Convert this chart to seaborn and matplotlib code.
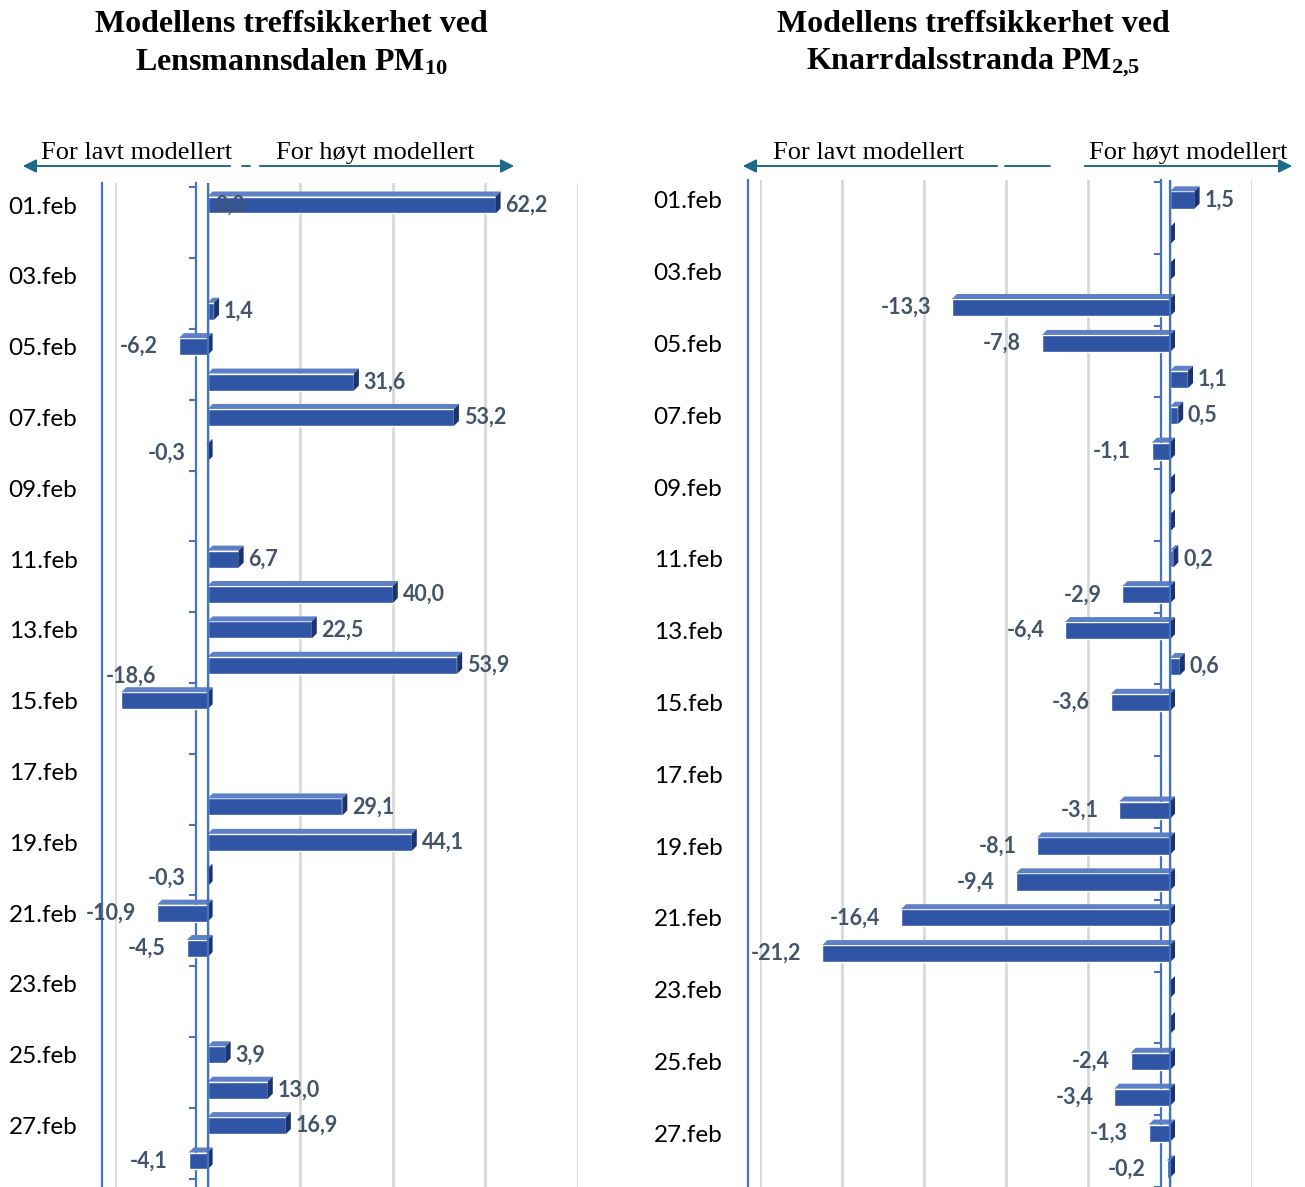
import numpy as np
import pandas as pd
import matplotlib
matplotlib.use("Agg")
import matplotlib.pyplot as plt
import seaborn as sns
from matplotlib.patches import Polygon, FancyArrowPatch
from matplotlib.lines import Line2D

# ---------------- data ----------------
dates = ["01.feb", "02.feb", "03.feb", "04.feb", "05.feb", "06.feb", "07.feb",
         "08.feb", "09.feb", "10.feb", "11.feb", "12.feb", "13.feb", "14.feb",
         "15.feb", "16.feb", "17.feb", "18.feb", "19.feb", "20.feb", "21.feb",
         "22.feb", "23.feb", "24.feb", "25.feb", "26.feb", "27.feb", "28.feb"]
nan = np.nan
pm10_lensmannsdalen = [62.2, nan, nan, 1.4, -6.2, 31.6, 53.2, -0.3, nan, nan,
                       6.7, 40.0, 22.5, 53.9, -18.6, nan, nan, 29.1, 44.1, -0.3,
                       -10.9, -4.5, nan, nan, 3.9, 13.0, 16.9, -4.1]
pm25_knarrdalsstranda = [1.5, 0.0, 0.0, -13.3, -7.8, 1.1, 0.5, -1.1, 0.0, 0.0,
                         0.2, -2.9, -6.4, 0.6, -3.6, nan, nan, -3.1, -8.1, -9.4,
                         -16.4, -21.2, 0.0, 0.0, -2.4, -3.4, -1.3, -0.2]
pm10_extra_labels = [("01.feb", 0.0)]
pm25_extra_labels = []

title_left = ["Modellens treffsikkerhet ved", "Lensmannsdalen PM$_{10}$"]
title_right = ["Modellens treffsikkerhet ved", "Knarrdalsstranda PM$_{2{,}5}$"]
header_low = "For lavt modellert"
header_high = "For høyt modellert"

# ---------------- style ----------------
sns.set_theme(style="white")
plt.rcParams["font.family"] = ["Lato", "DejaVu Sans"]
plt.rcParams["text.color"] = "black"
plt.rcParams["mathtext.fontset"] = "custom"
plt.rcParams["mathtext.rm"] = "Liberation Serif:bold"
plt.rcParams["mathtext.it"] = "Liberation Serif:bold"
plt.rcParams["mathtext.bf"] = "Liberation Serif:bold"

BAR = "#2F55A4"
BAR_TOP = "#5E80C6"
BAR_SIDE = "#1B3470"
LBL = "#44546A"
AXBLUE = "#4472C4"
ARROW = "#1D6A8A"
GRID = "#D9D9D9"
LABEL_FS = 15.5

W, H = 1305, 1187
fig = plt.figure(figsize=(W / 100, H / 100), dpi=100)


def fx(px):
    return px / W


def fy(py):
    return 1 - py / H


def fmt(v):
    return f"{v:.1f}".replace(".", ",")


def panel(values, extra, xlim, step, left_px, right_px, top_px, bot_px,
          row0_px, rowN_px, tickline_off_px):
    ax = fig.add_axes([fx(left_px), fy(bot_px), (right_px - left_px) / W,
                       (bot_px - top_px) / H])
    df = pd.DataFrame({"date": dates, "value": values}).dropna()
    sns.barplot(data=df, x="value", y="date", order=dates, orient="h",
                color=BAR, saturation=1, width=0.48, ax=ax, zorder=3)
    n = len(dates)
    rowpx = (rowN_px - row0_px) / (n - 1)
    top_idx = -(row0_px - top_px) / rowpx
    bot_idx = (n - 1) + (bot_px - rowN_px) / rowpx
    ax.set_xlim(*xlim)
    ax.set_ylim(bot_idx, top_idx)
    ax.set_xlabel("")
    ax.set_ylabel("")

    # grid
    ax.set_xticks(np.arange(xlim[0], xlim[1] + 0.01, step))
    ax.xaxis.grid(True, color=GRID, lw=2)
    ax.yaxis.grid(False)
    ax.set_axisbelow(True)
    ax.tick_params(axis="x", length=0, labelbottom=False)

    # y ticks
    ax.set_yticks(range(0, n, 2))
    ax.set_yticklabels(dates[::2])
    ax.set_yticks(np.arange(-0.5, n, 2), minor=True)
    ax.tick_params(axis="y", which="major", left=False, right=False,
                   length=0, pad=18, labelsize=17.5, labelcolor="black")
    ax.tick_params(axis="y", which="minor", left=False, right=True,
                   direction="in", length=5, width=1.5, color=AXBLUE)

    ppx = ax.bbox.width / (xlim[1] - xlim[0])
    ppy = ax.bbox.height / (bot_idx - top_idx)

    for s in ["top", "bottom"]:
        ax.spines[s].set_visible(False)
    ax.spines["left"].set_color(AXBLUE)
    ax.spines["left"].set_linewidth(1.6)
    ax.spines["left"].set_position(("outward", 9))
    ax.spines["right"].set_color(AXBLUE)
    ax.spines["right"].set_linewidth(1.6)
    ax.spines["right"].set_position(("data", -tickline_off_px / ppx))
    ax.axvline(0, color=AXBLUE, lw=1.6, zorder=5)

    # 3D-like faces derived from bar geometry
    ddx = 5 / ppx
    ddy = -5 / ppy
    for p in list(ax.patches):
        x0, w, y0, h = p.get_x(), p.get_width(), p.get_y(), p.get_height()
        if np.isnan(w):
            continue
        xl, xr = min(x0, x0 + w), max(x0, x0 + w)
        yt, yb = min(y0, y0 + h), max(y0, y0 + h)
        top = Polygon([(xl, yt), (xr, yt), (xr + ddx, yt + ddy), (xl + ddx, yt + ddy)],
                      closed=True, facecolor=BAR_TOP, edgecolor="none", zorder=3)
        side = Polygon([(xr, yt), (xr, yb), (xr + ddx, yb + ddy), (xr + ddx, yt + ddy)],
                       closed=True, facecolor=BAR_SIDE, edgecolor="none", zorder=3)
        ax.add_patch(top)
        ax.add_patch(side)

    # data labels
    for i, v in enumerate(values):
        if np.isnan(v) or v == 0:
            continue
        if v < 0.9 * xlim[0]:
            ax.annotate(fmt(v), xy=(xlim[0], i), xytext=(-7, 18),
                        textcoords="offset points", ha="left", va="center",
                        fontsize=LABEL_FS, fontweight="bold", color=LBL, zorder=6)
        elif v >= 0:
            ax.annotate(fmt(v), xy=(v, i), xytext=(7, 0),
                        textcoords="offset points", ha="left", va="center",
                        fontsize=LABEL_FS, fontweight="bold", color=LBL, zorder=6)
        else:
            ax.annotate(fmt(v), xy=(v, i), xytext=(-15, 0),
                        textcoords="offset points", ha="right", va="center",
                        fontsize=LABEL_FS, fontweight="bold", color=LBL, zorder=6)
    for d, v in extra:
        i = dates.index(d)
        ax.annotate(fmt(v), xy=(v, i), xytext=(6, 0),
                    textcoords="offset points", ha="left", va="center",
                    fontsize=LABEL_FS, fontweight="bold", color=LBL, zorder=6)
    return ax


panel(pm10_lensmannsdalen, pm10_extra_labels, (-20, 80), 20,
      115, 578, 183, 1187, 205, 1161, 12)
panel(pm25_knarrdalsstranda, pm25_extra_labels, (-25, 5), 5,
      760, 1252, 180, 1187, 200, 1172, 9)

# titles
for cx, lines in [(291, title_left), (973, title_right)]:
    fig.text(fx(cx), fy(25), lines[0], ha="center", va="center", color="black",
             family="Liberation Serif", fontweight="bold", fontsize=23)
    fig.text(fx(cx), fy(62), lines[1], ha="center", va="center", color="black",
             family="Liberation Serif", fontweight="bold", fontsize=23)

# headers
for cx, t in [(137, header_low), (375, header_high), (869, header_low), (1188, header_high)]:
    fig.text(fx(cx), fy(153), t, ha="center", va="center", color="black",
             family="Liberation Serif", fontsize=19)


def arrow(x1, x2, y=166):
    a = FancyArrowPatch((fx(x1), fy(y)), (fx(x2), fy(y)), transform=fig.transFigure,
                        arrowstyle="-|>", mutation_scale=20, color=ARROW, lw=1.4)
    fig.add_artist(a)


def seg(x1, x2, y=166):
    fig.add_artist(Line2D([fx(x1), fx(x2)], [fy(y), fy(y)], transform=fig.transFigure,
                          color=ARROW, lw=1.4))


arrow(233, 20)
seg(242, 250)
arrow(257, 517)
arrow(1000, 740)
seg(1005, 1050)
arrow(1082, 1295)

fig.savefig("out.png", dpi=100)
